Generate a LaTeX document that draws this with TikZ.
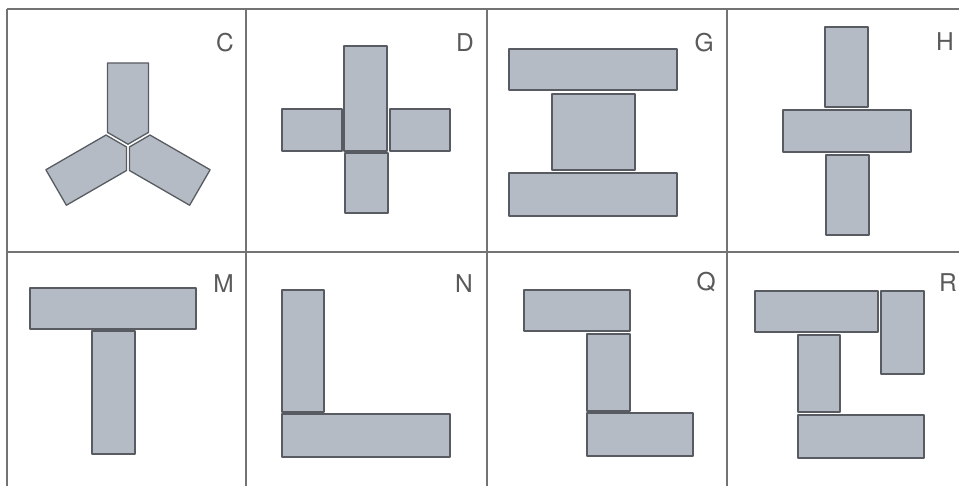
\documentclass[tikz,border=0pt]{standalone}
\usepackage{fontspec}
\setmainfont{TeX Gyre Heros}
\definecolor{piecefill}{RGB}{180,187,196}
\definecolor{pieceedge}{RGB}{88,92,98}
\definecolor{gridcol}{RGB}{115,115,115}
\definecolor{labelcol}{RGB}{90,90,90}
\begin{document}
\begin{tikzpicture}[x=1pt,y=-1pt,
  piece/.style={fill=piecefill, draw=pieceedge, line width=1.3pt, line join=round},
  gridline/.style={draw=gridcol, line width=1.3pt},
  lab/.style={anchor=base east, inner sep=0pt, text=labelcol, font=\fontsize{24.5}{24.5}\selectfont}]
\useasboundingbox (0,0) rectangle (959,486);
\fill[white] (0,0) rectangle (959,486);
% grid
\draw[gridline] (7,9) -- (959,9);
\draw[gridline] (7,252) -- (959,252);
\foreach \xx in {7,246,487,727} \draw[gridline] (\xx,9) -- (\xx,486);
% labels
\node[lab] (lC) at (234,52) {C};
\node[lab] (lD) at (474,52) {D};
\node[lab] (lG) at (714,52) {G};
\node[lab] (lH) at (954,51) {H};
\node[lab] (lM) at (234,293) {M};
\node[lab] (lN) at (473,293) {N};
\node[lab] (lQ) at (716,291) {Q};
\node[lab] (lR) at (957,292) {R};
% C
\foreach \ang in {0,120,240}{
  \begin{scope}[shift={(128,146)}, rotate=\ang]
    \draw[piece] (0,-1.8) -- (20.5,-13.6) -- (20.5,-83) -- (-20.5,-83) -- (-20.5,-13.6) -- cycle;
  \end{scope}
}
% D
\draw[piece] (344,46) rectangle (387,151);
\draw[piece] (345,153) rectangle (388,213);
\draw[piece] (282,109) rectangle (342,151);
\draw[piece] (390,109) rectangle (450,151);
% G
\draw[piece] (509,49) rectangle (677,90);
\draw[piece] (552,94) rectangle (635,170);
\draw[piece] (509,173) rectangle (677,216);
% H
\draw[piece] (825,27) rectangle (868,107);
\draw[piece] (783,110) rectangle (911,152);
\draw[piece] (826,155) rectangle (869,235);
% M
\draw[piece] (30,288) rectangle (196,329);
\draw[piece] (92,331) rectangle (135,454);
% N
\draw[piece] (282,290) rectangle (324,412);
\draw[piece] (282,414) rectangle (450,457);
% Q
\draw[piece] (524,290) rectangle (630,331);
\draw[piece] (587,334) rectangle (630,411);
\draw[piece] (587,413) rectangle (693,456);
% R
\draw[piece] (755,291) rectangle (878,332);
\draw[piece] (881,291) rectangle (924,374);
\draw[piece] (798,335) rectangle (840,412);
\draw[piece] (798,415) rectangle (924,458);
\end{tikzpicture}
\end{document}
